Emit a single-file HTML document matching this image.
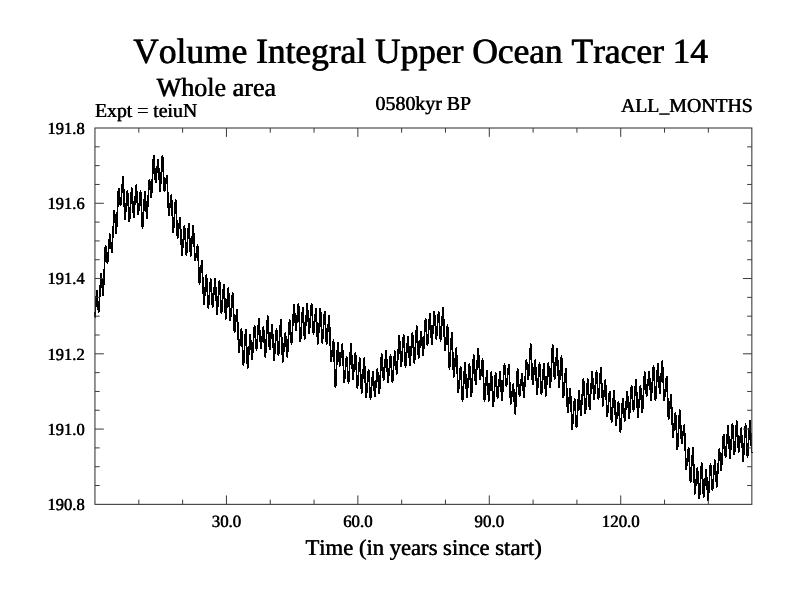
<!DOCTYPE html>
<html lang="en">
<head>
<meta charset="utf-8">
<title>Volume Integral Upper Ocean Tracer 14</title>
<style>
html,body{margin:0;padding:0;background:#fff;}
body{width:800px;height:600px;overflow:hidden;}
svg{display:block;}
text{font-family:"Liberation Serif","DejaVu Serif",serif;fill:#000;font-kerning:none;text-rendering:geometricPrecision;stroke:#000;stroke-width:0.08px;text-shadow:0.5px 0 0 #000;}
</style>
</head>
<body>
<svg width="800" height="600" viewBox="0 0 800 600">
<rect width="800" height="600" fill="#fff"/>
<text id="t1" style="stroke-width:0.15px;text-shadow:0.7px 0 0 #000" x="132.9" y="63.3" font-size="35.4">Volume Integral Upper Ocean Tracer 14</text>
<text id="t2" style="stroke-width:0.1px;text-shadow:0.6px 0 0 #000" x="156.3" y="96" font-size="26.1">Whole area</text>
<text id="t3" x="94.8" y="117.1" font-size="19.75">Expt = teiuN</text>
<text id="t4" x="375.3" y="110.3" font-size="19.9">0580kyr BP</text>
<text id="t5" x="752.6" y="112" text-anchor="end" font-size="19.8">ALL_MONTHS</text>
<text transform="translate(84.4 133.80) scale(0.97 1)" text-anchor="end" font-size="17.0">191.8</text>
<text transform="translate(84.4 209.07) scale(0.97 1)" text-anchor="end" font-size="17.0">191.6</text>
<text transform="translate(84.4 284.34) scale(0.97 1)" text-anchor="end" font-size="17.0">191.4</text>
<text transform="translate(84.4 359.61) scale(0.97 1)" text-anchor="end" font-size="17.0">191.2</text>
<text transform="translate(84.4 434.88) scale(0.97 1)" text-anchor="end" font-size="17.0">191.0</text>
<text transform="translate(84.4 510.15) scale(0.97 1)" text-anchor="end" font-size="17.0">190.8</text>
<text transform="translate(226.23 526.6) scale(0.98 1)" text-anchor="middle" font-size="17.2">30.0</text>
<text transform="translate(357.66 526.6) scale(0.98 1)" text-anchor="middle" font-size="17.2">60.0</text>
<text transform="translate(489.09 526.6) scale(0.98 1)" text-anchor="middle" font-size="17.2">90.0</text>
<text transform="translate(620.52 526.6) scale(0.98 1)" text-anchor="middle" font-size="17.2">120.0</text>
<text id="t6" x="305.2" y="554.8" font-size="22.65">Time (in years since start)</text>
<path d="M95.00 317.50L96.76 290.50L97.00 291.70L97.24 294.86L97.47 298.71L97.71 301.25L97.95 303.79L98.19 307.64L98.42 310.80L98.66 312.00L98.97 309.87L99.28 304.30L99.59 297.50L99.90 293.00L100.21 288.50L100.52 281.70L100.83 276.13L101.14 274.00L101.38 275.18L101.62 278.28L101.86 282.05L102.09 284.55L102.33 287.05L102.57 290.82L102.81 293.92L103.04 295.10L103.35 292.32L103.67 285.05L103.98 276.17L104.29 270.30L104.60 264.43L104.91 255.55L105.22 248.28L105.53 245.50L105.77 246.49L106.00 249.10L106.24 252.27L106.48 254.38L106.72 256.48L106.95 259.65L107.19 262.26L107.43 263.25L107.74 261.63L108.05 257.37L108.36 252.18L108.67 248.75L108.98 245.32L109.29 240.13L109.60 235.87L109.91 234.25L110.15 235.27L110.39 237.95L110.62 241.21L110.86 243.38L111.10 245.54L111.34 248.80L111.57 251.48L111.81 252.50L112.12 250.15L112.43 243.99L112.74 236.47L113.05 231.50L113.36 226.53L113.68 219.01L113.99 212.85L114.30 210.50L114.53 211.77L114.77 215.11L115.01 219.18L115.25 221.88L115.48 224.57L115.72 228.64L115.96 231.98L116.20 233.25L116.51 230.75L116.82 224.20L117.13 216.21L117.44 210.93L117.75 205.64L118.06 197.65L118.37 191.10L118.68 188.60L118.92 189.55L119.16 192.03L119.39 195.05L119.63 197.05L119.87 199.05L120.11 202.07L120.34 204.55L120.58 205.50L120.89 203.89L121.20 199.67L121.51 194.53L121.82 191.12L122.13 187.72L122.44 182.58L122.75 178.36L123.06 176.75L123.30 179.11L123.54 185.29L123.78 192.84L124.01 197.82L124.25 202.81L124.49 210.36L124.73 216.54L124.96 218.90L125.27 217.34L125.59 213.26L125.90 208.29L126.21 205.00L126.52 201.71L126.83 196.74L127.14 192.66L127.45 191.10L127.69 192.80L127.92 197.24L128.16 202.66L128.40 206.25L128.64 209.84L128.87 215.26L129.11 219.70L129.35 221.40L129.66 219.53L129.97 214.63L130.28 208.65L130.59 204.70L130.90 200.75L131.21 194.77L131.52 189.87L131.83 188.00L132.07 189.66L132.31 194.00L132.54 199.30L132.78 202.80L133.02 206.30L133.26 211.60L133.49 215.94L133.73 217.60L134.04 215.79L134.35 211.04L134.66 205.25L134.97 201.43L135.28 197.60L135.59 191.81L135.91 187.06L136.22 185.25L136.45 186.89L136.69 191.18L136.93 196.41L137.17 199.88L137.40 203.34L137.64 208.57L137.88 212.86L138.12 214.50L138.43 213.19L138.74 209.76L139.05 205.57L139.36 202.80L139.67 200.03L139.98 195.84L140.29 192.41L140.60 191.10L140.84 193.17L141.08 198.58L141.31 205.18L141.55 209.55L141.79 213.92L142.03 220.52L142.26 225.93L142.50 228.00L142.81 225.97L143.12 220.65L143.43 214.17L143.74 209.88L144.05 205.58L144.36 199.10L144.67 193.78L144.98 191.75L145.22 193.23L145.46 197.12L145.70 201.86L145.93 205.00L146.17 208.14L146.41 212.88L146.65 216.77L146.88 218.25L147.19 216.10L147.50 210.48L147.82 203.61L148.13 199.07L148.44 194.54L148.75 187.67L149.06 182.05L149.37 179.90L149.61 180.89L149.84 183.47L150.08 186.62L150.32 188.70L150.56 190.78L150.79 193.93L151.03 196.51L151.27 197.50L151.58 195.16L151.89 189.04L152.20 181.57L152.51 176.62L152.82 171.68L153.13 164.21L153.44 158.09L153.75 155.75L153.99 157.25L154.23 161.17L154.46 165.96L154.70 169.12L154.94 172.29L155.18 177.08L155.41 181.00L155.65 182.50L155.96 181.23L156.27 177.92L156.58 173.88L156.89 171.20L157.20 168.52L157.52 164.48L157.83 161.17L158.14 159.90L158.37 161.67L158.61 166.31L158.85 171.96L159.09 175.70L159.32 179.44L159.56 185.09L159.80 189.73L160.04 191.50L160.35 189.48L160.66 184.20L160.97 177.76L161.28 173.50L161.59 169.24L161.90 162.80L162.21 157.52L162.52 155.50L162.76 157.52L163.00 162.80L163.23 169.24L163.47 173.50L163.71 177.76L163.95 184.20L164.18 189.48L164.42 191.50L164.73 190.63L165.04 188.36L165.35 185.58L165.66 183.75L165.97 181.92L166.28 179.14L166.59 176.87L166.90 176.00L167.14 178.20L167.38 183.97L167.62 191.00L167.85 195.65L168.09 200.30L168.33 207.33L168.57 213.10L168.80 215.30L169.11 214.16L169.43 211.16L169.74 207.51L170.05 205.10L170.36 202.69L170.67 199.04L170.98 196.04L171.29 194.90L171.53 197.01L171.76 202.52L172.00 209.25L172.24 213.70L172.48 218.15L172.71 224.88L172.95 230.39L173.19 232.50L173.50 230.69L173.81 225.96L174.12 220.19L174.43 216.38L174.74 212.56L175.05 206.79L175.36 202.06L175.67 200.25L175.91 202.36L176.15 207.90L176.38 214.66L176.62 219.12L176.86 223.59L177.10 230.35L177.33 235.89L177.57 238.00L177.88 236.87L178.19 233.90L178.50 230.27L178.81 227.88L179.12 225.48L179.44 221.85L179.75 218.88L180.06 217.75L180.29 219.88L180.53 225.45L180.77 232.25L181.01 236.75L181.24 241.25L181.48 248.05L181.72 253.62L181.96 255.75L182.27 254.09L182.58 249.74L182.89 244.43L183.20 240.93L183.51 237.42L183.82 232.11L184.13 227.76L184.44 226.10L184.68 227.72L184.91 231.98L185.15 237.17L185.39 240.60L185.63 244.03L185.87 249.22L186.10 253.48L186.34 255.10L186.65 253.35L186.96 248.76L187.27 243.15L187.58 239.45L187.89 235.75L188.20 230.14L188.51 225.55L188.82 223.80L189.06 225.59L189.30 230.28L189.54 235.99L189.77 239.78L190.01 243.56L190.25 249.27L190.49 253.96L190.72 255.75L191.03 254.07L191.35 249.67L191.66 244.30L191.97 240.75L192.28 237.20L192.59 231.83L192.90 227.43L193.21 225.75L193.45 227.71L193.68 232.84L193.92 239.11L194.16 243.25L194.40 247.39L194.63 253.66L194.87 258.79L195.11 260.75L195.42 259.88L195.73 257.61L196.04 254.83L196.35 253.00L196.66 251.17L196.97 248.39L197.28 246.12L197.59 245.25L197.83 247.41L198.07 253.08L198.30 260.00L198.54 264.57L198.78 269.15L199.02 276.07L199.25 281.74L199.49 283.90L199.80 282.60L200.11 279.21L200.42 275.07L200.73 272.32L201.04 269.58L201.36 265.44L201.67 262.05L201.98 260.75L202.21 263.19L202.45 269.57L202.69 277.35L202.93 282.50L203.16 287.65L203.40 295.43L203.64 301.81L203.88 304.25L204.19 302.61L204.50 298.30L204.81 293.05L205.12 289.57L205.43 286.10L205.74 280.85L206.05 276.54L206.36 274.90L206.60 276.75L206.84 281.61L207.07 287.53L207.31 291.45L207.55 295.37L207.79 301.29L208.02 306.15L208.26 308.00L208.57 306.38L208.88 302.12L209.19 296.93L209.50 293.50L209.81 290.07L210.12 284.88L210.43 280.62L210.74 279.00L210.98 280.57L211.22 284.68L211.46 289.69L211.69 293.00L211.93 296.31L212.17 301.32L212.41 305.43L212.64 307.00L212.95 305.40L213.27 301.22L213.58 296.12L213.89 292.75L214.20 289.38L214.51 284.28L214.82 280.10L215.13 278.50L215.37 280.48L215.60 285.68L215.84 292.01L216.08 296.20L216.32 300.39L216.55 306.72L216.79 311.92L217.03 313.90L217.34 312.03L217.65 307.13L217.96 301.15L218.27 297.20L218.58 293.25L218.89 287.27L219.20 282.37L219.51 280.50L219.75 282.33L219.99 287.14L220.22 293.00L220.46 296.88L220.70 300.75L220.94 306.61L221.17 311.42L221.41 313.25L221.72 311.64L222.03 307.42L222.34 302.28L222.65 298.88L222.96 295.47L223.28 290.33L223.59 286.11L223.90 284.50L224.13 286.43L224.37 291.47L224.61 297.63L224.85 301.70L225.08 305.77L225.32 311.93L225.56 316.97L225.80 318.90L226.11 317.17L226.42 312.64L226.73 307.11L227.04 303.45L227.35 299.79L227.66 294.26L227.97 289.73L228.28 288.00L228.52 289.83L228.76 294.64L228.99 300.50L229.23 304.38L229.47 308.25L229.71 314.11L229.94 318.92L230.18 320.75L230.49 319.21L230.80 315.18L231.11 310.26L231.42 307.00L231.73 303.74L232.04 298.82L232.35 294.79L232.66 293.25L232.90 295.45L233.14 301.21L233.38 308.23L233.61 312.88L233.85 317.52L234.09 324.54L234.33 330.30L234.56 332.50L234.87 331.20L235.19 327.79L235.50 323.63L235.81 320.88L236.12 318.12L236.43 313.96L236.74 310.55L237.05 309.25L237.29 311.64L237.52 317.92L237.76 325.56L238.00 330.62L238.24 335.69L238.47 343.33L238.71 349.61L238.95 352.00L239.26 350.72L239.57 347.36L239.88 343.26L240.19 340.55L240.50 337.84L240.81 333.74L241.12 330.38L241.43 329.10L241.67 331.10L241.91 336.33L242.14 342.71L242.38 346.93L242.62 351.14L242.86 357.52L243.09 362.75L243.33 364.75L243.64 362.80L243.95 357.69L244.26 351.45L244.57 347.32L244.88 343.20L245.20 336.96L245.51 331.85L245.82 329.90L246.05 332.05L246.29 337.67L246.53 344.54L246.77 349.07L247.00 353.61L247.24 360.48L247.48 366.10L247.72 368.25L248.03 366.38L248.34 361.49L248.65 355.52L248.96 351.57L249.27 347.63L249.58 341.66L249.89 336.77L250.20 334.90L250.44 336.24L250.67 339.76L250.91 344.06L251.15 346.90L251.39 349.74L251.62 354.04L251.86 357.56L252.10 358.90L252.41 357.03L252.72 352.13L253.03 346.15L253.34 342.20L253.65 338.25L253.96 332.27L254.27 327.37L254.58 325.50L254.82 326.88L255.06 330.49L255.30 334.89L255.53 337.80L255.77 340.71L256.01 345.11L256.25 348.72L256.48 350.10L256.79 348.34L257.11 343.72L257.42 338.08L257.73 334.35L258.04 330.62L258.35 324.98L258.66 320.36L258.97 318.60L259.21 320.26L259.44 324.61L259.68 329.92L259.92 333.43L260.16 336.93L260.39 342.24L260.63 346.59L260.87 348.25L261.18 347.06L261.49 343.94L261.80 340.14L262.11 337.62L262.42 335.11L262.73 331.31L263.04 328.19L263.35 327.00L263.59 328.68L263.83 333.08L264.06 338.45L264.30 342.00L264.54 345.55L264.78 350.92L265.01 355.32L265.25 357.00L265.56 354.72L265.87 348.75L266.18 341.47L266.49 336.65L266.80 331.83L267.12 324.55L267.43 318.58L267.74 316.30L267.97 318.16L268.21 323.03L268.45 328.97L268.69 332.90L268.92 336.83L269.16 342.77L269.40 347.64L269.64 349.50L269.95 348.12L270.26 344.51L270.57 340.11L270.88 337.20L271.19 334.29L271.50 329.89L271.81 326.28L272.12 324.90L272.36 326.87L272.60 332.03L272.83 338.33L273.07 342.50L273.31 346.67L273.54 352.97L273.78 358.13L274.02 360.10L274.33 358.36L274.64 353.80L274.95 348.23L275.26 344.55L275.57 340.87L275.88 335.30L276.19 330.74L276.50 329.00L276.74 330.46L276.98 334.29L277.22 338.96L277.45 342.05L277.69 345.14L277.93 349.81L278.17 353.64L278.40 355.10L278.71 353.13L279.02 347.97L279.34 341.67L279.65 337.50L279.96 333.33L280.27 327.03L280.58 321.87L280.89 319.90L281.13 322.24L281.36 328.38L281.60 335.87L281.84 340.82L282.08 345.78L282.31 353.27L282.55 359.41L282.79 361.75L283.10 360.13L283.41 355.90L283.72 350.74L284.03 347.32L284.34 343.91L284.65 338.75L284.96 334.52L285.27 332.90L285.51 334.25L285.75 337.79L285.98 342.10L286.22 344.95L286.46 347.80L286.70 352.11L286.93 355.65L287.17 357.00L287.48 354.92L287.79 349.48L288.10 342.84L288.41 338.45L288.72 334.06L289.03 327.42L289.35 321.98L289.66 319.90L289.89 321.24L290.13 324.76L290.37 329.06L290.61 331.90L290.84 334.74L291.08 339.04L291.32 342.56L291.56 343.90L291.87 341.72L292.18 335.99L292.49 329.02L292.80 324.40L293.11 319.78L293.42 312.81L293.73 307.08L294.04 304.90L294.28 306.31L294.51 310.01L294.75 314.52L294.99 317.50L295.23 320.48L295.47 324.99L295.70 328.69L295.94 330.10L296.25 328.62L296.56 324.73L296.87 319.99L297.18 316.85L297.49 313.71L297.80 308.97L298.11 305.08L298.42 303.60L298.66 305.72L298.90 311.26L299.14 318.03L299.37 322.50L299.61 326.97L299.85 333.74L300.09 339.28L300.32 341.40L300.63 339.52L300.95 334.58L301.26 328.56L301.57 324.57L301.88 320.59L302.19 314.57L302.50 309.63L302.81 307.75L303.05 309.51L303.28 314.13L303.52 319.77L303.76 323.50L304.00 327.23L304.23 332.87L304.47 337.49L304.71 339.25L305.02 337.28L305.33 332.10L305.64 325.80L305.95 321.62L306.26 317.45L306.57 311.15L306.88 305.97L307.19 304.00L307.43 305.65L307.67 309.98L307.90 315.26L308.14 318.75L308.38 322.24L308.62 327.52L308.85 331.85L309.09 333.50L309.40 331.85L309.71 327.52L310.02 322.24L310.33 318.75L310.64 315.26L310.96 309.98L311.27 305.65L311.58 304.00L311.81 305.67L312.05 310.06L312.29 315.41L312.53 318.95L312.76 322.49L313.00 327.84L313.24 332.23L313.48 333.90L313.79 332.51L314.10 328.85L314.41 324.40L314.72 321.45L315.03 318.50L315.34 314.05L315.65 310.39L315.96 309.00L316.20 310.95L316.44 316.07L316.67 322.32L316.91 326.45L317.15 330.58L317.38 336.83L317.62 341.95L317.86 343.90L318.17 341.92L318.48 336.74L318.79 330.43L319.10 326.25L319.41 322.07L319.72 315.76L320.03 310.58L320.34 308.60L320.58 310.51L320.82 315.53L321.06 321.65L321.29 325.70L321.53 329.75L321.77 335.87L322.01 340.89L322.24 342.80L322.55 341.05L322.87 336.46L323.18 330.85L323.49 327.15L323.80 323.45L324.11 317.84L324.42 313.25L324.73 311.50L324.97 313.35L325.20 318.21L325.44 324.13L325.68 328.05L325.92 331.97L326.15 337.89L326.39 342.75L326.63 344.60L326.94 342.97L327.25 338.70L327.56 333.49L327.87 330.05L328.18 326.61L328.49 321.40L328.80 317.13L329.11 315.50L329.35 318.08L329.59 324.82L329.82 333.06L330.06 338.50L330.30 343.94L330.54 352.18L330.77 358.92L331.01 361.50L331.32 360.31L331.63 357.19L331.94 353.39L332.25 350.88L332.56 348.36L332.88 344.56L333.19 341.44L333.50 340.25L333.73 342.90L333.97 349.85L334.21 358.32L334.45 363.93L334.68 369.53L334.92 378.00L335.16 384.95L335.40 387.60L335.71 385.09L336.02 378.51L336.33 370.48L336.64 365.18L336.95 359.87L337.26 351.84L337.57 345.26L337.88 342.75L338.12 344.04L338.36 347.41L338.59 351.53L338.83 354.25L339.07 356.97L339.30 361.09L339.54 364.46L339.78 365.75L340.09 364.55L340.40 361.39L340.71 357.54L341.02 355.00L341.33 352.46L341.64 348.61L341.95 345.45L342.26 344.25L342.50 346.40L342.74 352.02L342.98 358.89L343.21 363.43L343.45 367.96L343.69 374.83L343.93 380.45L344.16 382.60L344.47 381.15L344.78 377.36L345.10 372.73L345.41 369.68L345.72 366.62L346.03 361.99L346.34 358.20L346.65 356.75L346.89 358.23L347.12 362.12L347.36 366.86L347.60 370.00L347.84 373.14L348.07 377.88L348.31 381.77L348.55 383.25L348.86 381.01L349.17 375.14L349.48 367.98L349.79 363.25L350.10 358.52L350.41 351.36L350.72 345.49L351.03 343.25L351.27 345.25L351.51 350.48L351.74 356.86L351.98 361.07L352.22 365.29L352.46 371.67L352.69 376.90L352.93 378.90L353.24 377.45L353.55 373.65L353.86 369.02L354.17 365.95L354.48 362.88L354.80 358.25L355.11 354.45L355.42 353.00L355.65 354.97L355.89 360.15L356.13 366.45L356.37 370.62L356.60 374.80L356.84 381.10L357.08 386.28L357.32 388.25L357.63 386.57L357.94 382.17L358.25 376.80L358.56 373.25L358.87 369.70L359.18 364.33L359.49 359.93L359.80 358.25L360.04 360.20L360.27 365.29L360.51 371.51L360.75 375.62L360.99 379.74L361.23 385.96L361.46 391.05L361.70 393.00L362.01 391.05L362.32 385.96L362.63 379.74L362.94 375.62L363.25 371.51L363.56 365.29L363.87 360.20L364.18 358.25L364.42 360.45L364.66 366.23L364.90 373.27L365.13 377.93L365.37 382.58L365.61 389.62L365.85 395.40L366.08 397.60L366.39 396.05L366.71 391.99L367.02 387.03L367.33 383.75L367.64 380.47L367.95 375.51L368.26 371.45L368.57 369.90L368.81 371.52L369.04 375.78L369.28 380.97L369.52 384.40L369.76 387.83L369.99 393.02L370.23 397.28L370.47 398.90L370.78 397.38L371.09 393.40L371.40 388.54L371.71 385.32L372.02 382.11L372.33 377.25L372.64 373.27L372.95 371.75L373.19 373.13L373.43 376.75L373.66 381.16L373.90 384.07L374.14 386.99L374.38 391.40L374.61 395.02L374.85 396.40L375.16 394.87L375.47 390.85L375.78 385.94L376.09 382.70L376.40 379.46L376.72 374.55L377.03 370.53L377.34 369.00L377.57 370.36L377.81 373.92L378.05 378.25L378.29 381.12L378.52 384.00L378.76 388.33L379.00 391.89L379.24 393.25L379.55 391.05L379.86 385.29L380.17 378.27L380.48 373.62L380.79 368.98L381.10 361.96L381.41 356.20L381.72 354.00L381.96 355.46L382.20 359.29L382.43 363.96L382.67 367.05L382.91 370.14L383.14 374.81L383.38 378.64L383.62 380.10L383.93 378.48L384.24 374.22L384.55 369.03L384.86 365.60L385.17 362.17L385.48 356.98L385.79 352.72L386.10 351.10L386.34 352.86L386.58 357.48L386.82 363.12L387.05 366.85L387.29 370.58L387.53 376.22L387.77 380.84L388.00 382.60L388.31 381.07L388.62 377.06L388.94 372.16L389.25 368.93L389.56 365.69L389.87 360.79L390.18 356.78L390.49 355.25L390.73 356.75L390.96 360.67L391.20 365.46L391.44 368.62L391.68 371.79L391.91 376.58L392.15 380.50L392.39 382.00L392.70 380.27L393.01 375.74L393.32 370.21L393.63 366.55L393.94 362.89L394.25 357.36L394.56 352.83L394.87 351.10L395.11 352.38L395.35 355.72L395.58 359.80L395.82 362.50L396.06 365.20L396.30 369.28L396.53 372.62L396.77 373.90L397.08 371.76L397.39 366.17L397.70 359.34L398.01 354.82L398.32 350.31L398.63 343.48L398.95 337.89L399.26 335.75L399.49 337.47L399.73 341.96L399.97 347.45L400.21 351.07L400.44 354.70L400.68 360.19L400.92 364.68L401.16 366.40L401.47 364.66L401.78 360.09L402.09 354.51L402.40 350.82L402.71 347.14L403.02 341.56L403.33 336.99L403.64 335.25L403.88 337.03L404.12 341.69L404.35 347.37L404.59 351.12L404.83 354.88L405.06 360.56L405.30 365.22L405.54 367.00L405.85 365.29L406.16 360.82L406.47 355.36L406.78 351.75L407.09 348.14L407.40 342.68L407.71 338.21L408.02 336.50L408.26 338.10L408.50 342.30L408.74 347.41L408.97 350.80L409.21 354.19L409.45 359.30L409.69 363.50L409.92 365.10L410.23 363.30L410.54 358.57L410.86 352.81L411.17 349.00L411.48 345.19L411.79 339.43L412.10 334.70L412.41 332.90L412.65 334.57L412.88 338.96L413.12 344.31L413.36 347.85L413.60 351.39L413.83 356.74L414.07 361.13L414.31 362.80L414.62 360.75L414.93 355.36L415.24 348.79L415.55 344.45L415.86 340.11L416.17 333.54L416.48 328.15L416.79 326.10L417.03 327.90L417.27 332.62L417.50 338.37L417.74 342.18L417.98 345.98L418.22 351.73L418.45 356.45L418.69 358.25L419.00 356.78L419.31 352.93L419.62 348.23L419.93 345.12L420.24 342.02L420.56 337.32L420.87 333.47L421.18 332.00L421.41 333.29L421.65 336.68L421.89 340.82L422.13 343.55L422.36 346.28L422.60 350.42L422.84 353.81L423.08 355.10L423.39 353.06L423.70 347.70L424.01 341.17L424.32 336.85L424.63 332.53L424.94 326.00L425.25 320.64L425.56 318.60L425.80 320.08L426.03 323.97L426.27 328.71L426.51 331.85L426.75 334.99L426.99 339.73L427.22 343.62L427.46 345.10L427.77 343.34L428.08 338.72L428.39 333.08L428.70 329.35L429.01 325.62L429.32 319.98L429.63 315.36L429.94 313.60L430.18 315.33L430.42 319.86L430.66 325.39L430.89 329.05L431.13 332.71L431.37 338.24L431.61 342.77L431.84 344.50L432.15 342.65L432.47 337.81L432.78 331.91L433.09 328.00L433.40 324.09L433.71 318.19L434.02 313.35L434.33 311.50L434.57 313.03L434.80 317.05L435.04 321.96L435.28 325.20L435.52 328.44L435.75 333.35L435.99 337.37L436.23 338.90L436.54 337.38L436.85 333.40L437.16 328.54L437.47 325.32L437.78 322.11L438.09 317.25L438.40 313.27L438.71 311.75L438.95 313.37L439.19 317.63L439.42 322.82L439.66 326.25L439.90 329.68L440.14 334.87L440.37 339.13L440.61 340.75L440.92 338.88L441.23 333.99L441.54 328.02L441.85 324.07L442.16 320.13L442.48 314.16L442.79 309.27L443.10 307.40L443.33 309.83L443.57 316.19L443.81 323.94L444.05 329.07L444.28 334.21L444.52 341.96L444.76 348.32L445.00 350.75L445.31 349.32L445.62 345.58L445.93 341.02L446.24 338.00L446.55 334.98L446.86 330.42L447.17 326.68L447.48 325.25L447.72 327.68L447.96 334.06L448.19 341.83L448.43 346.98L448.67 352.12L448.90 359.89L449.14 366.27L449.38 368.70L449.69 366.69L450.00 361.41L450.31 354.98L450.62 350.73L450.93 346.47L451.24 340.04L451.55 334.76L451.86 332.75L452.10 335.23L452.34 341.72L452.58 349.64L452.81 354.88L453.05 360.11L453.29 368.03L453.53 374.52L453.76 377.00L454.07 375.38L454.38 371.14L454.70 365.97L455.01 362.55L455.32 359.13L455.63 353.96L455.94 349.72L456.25 348.10L456.49 350.59L456.72 357.12L456.96 365.08L457.20 370.35L457.44 375.62L457.67 383.58L457.91 390.11L458.15 392.60L458.46 391.15L458.77 387.36L459.08 382.73L459.39 379.68L459.70 376.62L460.01 371.99L460.32 368.20L460.63 366.75L460.87 368.69L461.11 373.77L461.34 379.97L461.58 384.07L461.82 388.18L462.06 394.38L462.29 399.46L462.53 401.40L462.84 399.25L463.15 393.62L463.46 386.75L463.77 382.20L464.08 377.65L464.39 370.78L464.71 365.15L465.02 363.00L465.25 364.94L465.49 370.01L465.73 376.20L465.97 380.30L466.20 384.40L466.44 390.59L466.68 395.66L466.92 397.60L467.23 395.72L467.54 390.79L467.85 384.78L468.16 380.80L468.47 376.82L468.78 370.81L469.09 365.88L469.40 364.00L469.64 365.81L469.88 370.57L470.11 376.36L470.35 380.20L470.59 384.04L470.83 389.83L471.06 394.59L471.30 396.40L471.61 394.08L471.92 387.99L472.23 380.56L472.54 375.65L472.85 370.74L473.16 363.31L473.47 357.22L473.78 354.90L474.02 356.56L474.26 360.90L474.50 366.20L474.73 369.70L474.97 373.20L475.21 378.50L475.45 382.84L475.68 384.50L475.99 382.51L476.30 377.30L476.62 370.95L476.93 366.75L477.24 362.55L477.55 356.20L477.86 350.99L478.17 349.00L478.41 350.71L478.64 355.18L478.88 360.64L479.12 364.25L479.36 367.86L479.59 373.32L479.83 377.79L480.07 379.50L480.38 378.35L480.69 375.34L481.00 371.68L481.31 369.25L481.62 366.82L481.93 363.16L482.24 360.15L482.55 359.00L482.79 361.34L483.03 367.46L483.26 374.93L483.50 379.88L483.74 384.82L483.98 392.29L484.21 398.41L484.45 400.75L484.76 399.09L485.07 394.74L485.38 389.43L485.69 385.93L486.00 382.42L486.32 377.11L486.63 372.76L486.94 371.10L487.17 372.76L487.41 377.11L487.65 382.42L487.89 385.93L488.12 389.43L488.36 394.74L488.60 399.09L488.84 400.75L489.15 399.13L489.46 394.87L489.77 389.68L490.08 386.25L490.39 382.82L490.70 377.63L491.01 373.37L491.32 371.75L491.56 373.69L491.80 378.77L492.03 384.97L492.27 389.07L492.51 393.18L492.75 399.38L492.98 404.46L493.22 406.40L493.53 404.53L493.84 399.63L494.15 393.65L494.46 389.70L494.77 385.75L495.08 379.77L495.39 374.87L495.70 373.00L495.94 374.41L496.18 378.12L496.42 382.64L496.65 385.62L496.89 388.61L497.13 393.13L497.37 396.84L497.60 398.25L497.91 396.77L498.23 392.88L498.54 388.14L498.85 385.00L499.16 381.86L499.47 377.12L499.78 373.23L500.09 371.75L500.33 373.37L500.56 377.63L500.80 382.82L501.04 386.25L501.28 389.68L501.51 394.87L501.75 399.13L501.99 400.75L502.30 398.69L502.61 393.30L502.92 386.72L503.23 382.38L503.54 378.03L503.85 371.45L504.16 366.06L504.47 364.00L504.71 365.25L504.95 368.54L505.18 372.55L505.42 375.20L505.66 377.85L505.90 381.86L506.13 385.15L506.37 386.40L506.68 385.20L506.99 382.04L507.30 378.19L507.61 375.65L507.92 373.11L508.24 369.26L508.55 366.10L508.86 364.90L509.09 367.08L509.33 372.81L509.57 379.78L509.81 384.40L510.04 389.02L510.28 395.99L510.52 401.72L510.76 403.90L511.07 402.80L511.38 399.92L511.69 396.40L512.00 394.07L512.31 391.75L512.62 388.23L512.93 385.35L513.24 384.25L513.48 385.91L513.72 390.26L513.95 395.57L514.19 399.07L514.43 402.58L514.66 407.89L514.90 412.24L515.14 413.90L515.45 411.39L515.76 404.80L516.07 396.76L516.38 391.45L516.69 386.14L517.00 378.10L517.31 371.51L517.62 369.00L517.86 370.53L518.10 374.55L518.34 379.46L518.57 382.70L518.81 385.94L519.05 390.85L519.29 394.87L519.52 396.40L519.83 395.15L520.14 391.86L520.46 387.85L520.77 385.20L521.08 382.55L521.39 378.54L521.70 375.25L522.01 374.00L522.25 375.32L522.48 378.78L522.72 383.01L522.96 385.80L523.20 388.59L523.43 392.82L523.67 396.28L523.91 397.60L524.22 395.51L524.53 390.03L524.84 383.35L525.15 378.93L525.46 374.50L525.77 367.82L526.08 362.34L526.39 360.25L526.63 361.33L526.87 364.15L527.10 367.60L527.34 369.88L527.58 372.15L527.82 375.60L528.05 378.42L528.29 379.50L528.60 377.53L528.91 372.35L529.22 366.05L529.53 361.88L529.84 357.70L530.16 351.40L530.47 346.22L530.78 344.25L531.01 346.50L531.25 352.41L531.49 359.61L531.73 364.38L531.96 369.14L532.20 376.34L532.44 382.25L532.68 384.50L532.99 383.13L533.30 379.55L533.61 375.19L533.92 372.30L534.23 369.41L534.54 365.05L534.85 361.47L535.16 360.10L535.40 362.03L535.64 367.07L535.87 373.23L536.11 377.30L536.35 381.37L536.59 387.53L536.82 392.57L537.06 394.50L537.37 392.74L537.68 388.12L537.99 382.48L538.30 378.75L538.61 375.02L538.92 369.38L539.23 364.76L539.54 363.00L539.78 364.76L540.02 369.38L540.26 375.02L540.49 378.75L540.73 382.48L540.97 388.12L541.21 392.74L541.44 394.50L541.75 392.79L542.07 388.32L542.38 382.86L542.69 379.25L543.00 375.64L543.31 370.18L543.62 365.71L543.93 364.00L544.17 365.78L544.40 370.44L544.64 376.12L544.88 379.88L545.12 383.63L545.35 389.31L545.59 393.97L545.83 395.75L546.14 393.92L546.45 389.11L546.76 383.25L547.07 379.38L547.38 375.50L547.69 369.64L548.00 364.83L548.31 363.00L548.55 364.38L548.79 367.99L549.02 372.39L549.26 375.30L549.50 378.21L549.74 382.61L549.97 386.22L550.21 387.60L550.52 385.23L550.83 379.02L551.14 371.44L551.45 366.43L551.76 361.41L552.08 353.83L552.39 347.62L552.70 345.25L552.93 347.13L553.17 352.07L553.41 358.09L553.65 362.07L553.88 366.06L554.12 372.08L554.36 377.02L554.60 378.90L554.91 377.23L555.22 372.84L555.53 367.49L555.84 363.95L556.15 360.41L556.46 355.06L556.77 350.67L557.08 349.00L557.32 351.16L557.56 356.82L557.79 363.73L558.03 368.30L558.27 372.87L558.50 379.78L558.74 385.44L558.98 387.60L559.29 385.84L559.60 381.22L559.91 375.58L560.22 371.85L560.53 368.12L560.84 362.48L561.15 357.86L561.46 356.10L561.70 358.42L561.94 364.51L562.18 371.94L562.41 376.85L562.65 381.76L562.89 389.19L563.13 395.28L563.36 397.60L563.67 396.00L563.99 391.80L564.30 386.69L564.61 383.30L564.92 379.91L565.23 374.80L565.54 370.60L565.85 369.00L566.09 371.44L566.32 377.84L566.56 385.64L566.80 390.80L567.04 395.96L567.27 403.76L567.51 410.16L567.75 412.60L568.06 411.26L568.37 407.74L568.68 403.44L568.99 400.60L569.30 397.76L569.61 393.46L569.92 389.94L570.23 388.60L570.47 390.86L570.71 396.77L570.94 403.98L571.18 408.75L571.42 413.52L571.66 420.73L571.89 426.64L572.13 428.90L572.44 427.24L572.75 422.89L573.06 417.58L573.37 414.07L573.68 410.57L574.00 405.26L574.31 400.91L574.62 399.25L574.85 400.84L575.09 405.00L575.33 410.07L575.57 413.43L575.80 416.78L576.04 421.85L576.28 426.01L576.52 427.60L576.83 425.56L577.14 420.20L577.45 413.67L577.76 409.35L578.07 405.03L578.38 398.50L578.69 393.14L579.00 391.10L579.24 392.48L579.48 396.10L579.71 400.51L579.95 403.43L580.19 406.34L580.42 410.75L580.66 414.37L580.90 415.75L581.21 413.67L581.52 408.22L581.83 401.57L582.14 397.18L582.45 392.78L582.76 386.13L583.07 380.68L583.38 378.60L583.62 380.54L583.86 385.62L584.10 391.82L584.33 395.93L584.57 400.03L584.81 406.23L585.05 411.31L585.28 413.25L585.59 411.35L585.90 406.36L586.22 400.27L586.53 396.25L586.84 392.23L587.15 386.14L587.46 381.15L587.77 379.25L588.01 380.94L588.24 385.38L588.48 390.79L588.72 394.38L588.96 397.96L589.19 403.37L589.43 407.81L589.67 409.50L589.98 407.37L590.29 401.80L590.60 395.00L590.91 390.50L591.22 386.00L591.53 379.20L591.84 373.63L592.15 371.50L592.39 373.07L592.63 377.18L592.86 382.19L593.10 385.50L593.34 388.81L593.58 393.82L593.81 397.93L594.05 399.50L594.36 397.91L594.67 393.74L594.98 388.66L595.29 385.30L595.60 381.94L595.92 376.86L596.23 372.69L596.54 371.10L596.77 372.68L597.01 376.81L597.25 381.84L597.49 385.18L597.72 388.51L597.96 393.54L598.20 397.67L598.44 399.25L598.75 397.50L599.06 392.92L599.37 387.32L599.68 383.62L599.99 379.93L600.30 374.33L600.61 369.75L600.92 368.00L601.16 370.11L601.40 375.65L601.63 382.41L601.87 386.88L602.11 391.34L602.35 398.10L602.58 403.64L602.82 405.75L603.13 404.32L603.44 400.58L603.75 396.02L604.06 393.00L604.37 389.98L604.68 385.42L604.99 381.68L605.30 380.25L605.54 382.27L605.78 387.58L606.02 394.05L606.25 398.32L606.49 402.60L606.73 409.07L606.97 414.38L607.20 416.40L607.51 415.01L607.83 411.35L608.14 406.90L608.45 403.95L608.76 401.00L609.07 396.55L609.38 392.89L609.69 391.50L609.93 393.21L610.16 397.68L610.40 403.14L610.64 406.75L610.88 410.36L611.11 415.82L611.35 420.29L611.59 422.00L611.90 420.22L612.21 415.56L612.52 409.88L612.83 406.12L613.14 402.37L613.45 396.69L613.76 392.03L614.07 390.25L614.31 392.20L614.55 397.31L614.78 403.55L615.02 407.68L615.26 411.80L615.50 418.04L615.73 423.15L615.97 425.10L616.28 423.79L616.59 420.37L616.90 416.19L617.21 413.43L617.52 410.66L617.84 406.48L618.15 403.06L618.46 401.75L618.69 403.44L618.93 407.88L619.17 413.29L619.41 416.88L619.64 420.46L619.88 425.87L620.12 430.31L620.36 432.00L620.67 430.13L620.98 425.23L621.29 419.25L621.60 415.30L621.91 411.35L622.22 405.37L622.53 400.47L622.84 398.60L623.08 399.84L623.32 403.09L623.55 407.05L623.79 409.68L624.03 412.30L624.26 416.26L624.50 419.51L624.74 420.75L625.05 419.11L625.36 414.82L625.67 409.59L625.98 406.12L626.29 402.66L626.60 397.43L626.91 393.14L627.22 391.50L627.46 393.00L627.70 396.92L627.94 401.71L628.17 404.88L628.41 408.04L628.65 412.83L628.89 416.75L629.12 418.25L629.43 416.45L629.75 411.73L630.06 405.98L630.37 402.18L630.68 398.37L630.99 392.62L631.30 387.90L631.61 386.10L631.85 387.48L632.08 391.10L632.32 395.51L632.56 398.43L632.80 401.34L633.03 405.75L633.27 409.37L633.51 410.75L633.82 408.99L634.13 404.37L634.44 398.73L634.75 395.00L635.06 391.27L635.37 385.63L635.68 381.01L635.99 379.25L636.23 381.36L636.47 386.90L636.70 393.66L636.94 398.12L637.18 402.59L637.42 409.35L637.65 414.89L637.89 417.00L638.20 415.25L638.51 410.67L638.82 405.07L639.13 401.38L639.44 397.68L639.76 392.08L640.07 387.50L640.38 385.75L640.61 387.25L640.85 391.19L641.09 396.00L641.33 399.18L641.56 402.35L641.80 407.16L642.04 411.10L642.28 412.60L642.59 410.33L642.90 404.37L643.21 397.11L643.52 392.30L643.83 387.49L644.14 380.23L644.45 374.27L644.76 372.00L645.00 373.37L645.24 376.95L645.47 381.31L645.71 384.20L645.95 387.09L646.18 391.45L646.42 395.03L646.66 396.40L646.97 395.02L647.28 391.40L647.59 386.99L647.90 384.07L648.21 381.16L648.52 376.75L648.83 373.13L649.14 371.75L649.38 373.33L649.62 377.48L649.86 382.53L650.09 385.88L650.33 389.22L650.57 394.27L650.81 398.42L651.04 400.00L651.35 398.10L651.66 393.13L651.98 387.06L652.29 383.05L652.60 379.04L652.91 372.97L653.22 368.00L653.53 366.10L653.77 368.00L654.00 372.99L654.24 379.08L654.48 383.10L654.72 387.12L654.95 393.21L655.19 398.20L655.43 400.10L655.74 398.06L656.05 392.70L656.36 386.17L656.67 381.85L656.98 377.53L657.29 371.00L657.60 365.64L657.91 363.60L658.15 365.26L658.39 369.61L658.62 374.92L658.86 378.43L659.10 381.93L659.34 387.24L659.57 391.59L659.81 393.25L660.12 391.45L660.43 386.73L660.74 380.98L661.05 377.18L661.36 373.37L661.68 367.62L661.99 362.90L662.30 361.10L662.53 363.28L662.77 369.01L663.01 375.98L663.25 380.60L663.48 385.22L663.72 392.19L663.96 397.92L664.20 400.10L664.51 398.78L664.82 395.32L665.13 391.09L665.44 388.30L665.75 385.51L666.06 381.28L666.37 377.82L666.68 376.50L666.92 378.89L667.16 385.16L667.39 392.80L667.63 397.85L667.87 402.90L668.11 410.54L668.34 416.81L668.58 419.20L668.89 417.84L669.20 414.27L669.51 409.93L669.82 407.05L670.13 404.17L670.44 399.83L670.75 396.26L671.06 394.90L671.30 397.26L671.54 403.43L671.78 410.97L672.01 415.95L672.25 420.93L672.49 428.47L672.73 434.64L672.96 437.00L673.27 435.66L673.59 432.14L673.90 427.84L674.21 425.00L674.52 422.16L674.83 417.86L675.14 414.34L675.45 413.00L675.69 415.04L675.92 420.40L676.16 426.93L676.40 431.25L676.64 435.57L676.87 442.10L677.11 447.46L677.35 449.50L677.66 447.30L677.97 441.54L678.28 434.52L678.59 429.88L678.90 425.23L679.21 418.21L679.52 412.45L679.83 410.25L680.07 412.10L680.31 416.94L680.54 422.84L680.78 426.75L681.02 430.66L681.26 436.56L681.49 441.40L681.73 443.25L682.04 442.23L682.35 439.57L682.66 436.32L682.97 434.18L683.28 432.03L683.60 428.78L683.91 426.12L684.22 425.10L684.45 427.55L684.69 433.98L684.93 441.82L685.17 447.00L685.40 452.18L685.64 460.02L685.88 466.45L686.12 468.90L686.43 467.73L686.74 464.66L687.05 460.92L687.36 458.45L687.67 455.98L687.98 452.24L688.29 449.17L688.60 448.00L688.84 449.94L689.08 455.01L689.31 461.20L689.55 465.30L689.79 469.40L690.02 475.59L690.26 480.66L690.50 482.60L690.81 480.66L691.12 475.59L691.43 469.40L691.74 465.30L692.05 461.20L692.36 455.01L692.67 449.94L692.98 448.00L693.22 450.57L693.46 457.30L693.70 465.52L693.93 470.95L694.17 476.38L694.41 484.60L694.65 491.33L694.88 493.90L695.19 492.45L695.50 488.65L695.82 484.02L696.13 480.95L696.44 477.88L696.75 473.25L697.06 469.45L697.37 468.00L697.61 469.69L697.84 474.13L698.08 479.54L698.32 483.12L698.56 486.71L698.79 492.12L699.03 496.56L699.27 498.25L699.58 496.28L699.89 491.10L700.20 484.80L700.51 480.62L700.82 476.45L701.13 470.15L701.44 464.97L701.75 463.00L701.99 464.90L702.23 469.89L702.46 475.98L702.70 480.00L702.94 484.02L703.18 490.11L703.41 495.10L703.65 497.00L703.96 495.48L704.27 491.51L704.58 486.66L704.89 483.45L705.20 480.24L705.52 475.39L705.83 471.42L706.14 469.90L706.37 471.63L706.61 476.15L706.85 481.67L707.09 485.32L707.32 488.98L707.56 494.50L707.80 499.02L708.04 500.75L708.35 498.69L708.66 493.30L708.97 486.72L709.28 482.38L709.59 478.03L709.90 471.45L710.21 466.06L710.52 464.00L710.76 465.46L711.00 469.29L711.23 473.96L711.47 477.05L711.71 480.14L711.94 484.81L712.18 488.64L712.42 490.10L712.73 488.43L713.04 484.05L713.35 478.71L713.66 475.18L713.97 471.64L714.28 466.30L714.59 461.92L714.90 460.25L715.14 461.75L715.38 465.67L715.62 470.46L715.85 473.62L716.09 476.79L716.33 481.58L716.57 485.50L716.80 487.00L717.11 484.87L717.42 479.30L717.74 472.50L718.05 468.00L718.36 463.50L718.67 456.70L718.98 451.13L719.29 449.00L719.53 450.18L719.76 453.28L720.00 457.05L720.24 459.55L720.48 462.05L720.71 465.82L720.95 468.92L721.19 470.10L721.50 468.11L721.81 462.88L722.12 456.51L722.43 452.30L722.74 448.09L723.05 441.72L723.36 436.49L723.67 434.50L723.91 435.78L724.15 439.12L724.38 443.20L724.62 445.90L724.86 448.60L725.10 452.68L725.33 456.02L725.57 457.30L725.88 455.55L726.19 450.98L726.50 445.39L726.81 441.70L727.12 438.01L727.44 432.42L727.75 427.85L728.06 426.10L728.29 427.90L728.53 432.62L728.77 438.37L729.01 442.18L729.24 445.98L729.48 451.73L729.72 456.45L729.96 458.25L730.27 456.31L730.58 451.23L730.89 445.03L731.20 440.93L731.51 436.82L731.82 430.62L732.13 425.54L732.44 423.60L732.68 425.33L732.92 429.86L733.15 435.39L733.39 439.05L733.63 442.71L733.87 448.24L734.10 452.77L734.34 454.50L734.65 452.63L734.96 447.73L735.27 441.75L735.58 437.80L735.89 433.85L736.20 427.87L736.51 422.97L736.82 421.10L737.06 422.83L737.30 427.36L737.54 432.89L737.77 436.55L738.01 440.21L738.25 445.74L738.49 450.27L738.72 452.00L739.03 450.66L739.35 447.14L739.66 442.84L739.97 440.00L740.28 437.16L740.59 432.86L740.90 429.34L741.21 428.00L741.45 429.88L741.68 434.79L741.92 440.78L742.16 444.75L742.40 448.72L742.63 454.71L742.87 459.62L743.11 461.50L743.42 459.41L743.73 453.95L744.04 447.28L744.35 442.88L744.66 438.47L744.97 431.80L745.28 426.34L745.59 424.25L745.83 426.10L746.07 430.95L746.30 436.86L746.54 440.77L746.78 444.69L747.02 450.60L747.25 455.45L747.49 457.30L747.80 455.27L748.11 449.96L748.42 443.48L748.73 439.20L749.04 434.92L749.36 428.44L749.67 423.13L749.98 421.10L750.21 422.90L750.45 427.62L750.69 433.37L750.93 437.18L751.16 440.98L751.40 446.73L751.64 451.45L751.88 453.25" fill="none" stroke="#000" stroke-width="1.7" stroke-linejoin="round" stroke-linecap="butt" shape-rendering="crispEdges"/>
<rect x="94.95" y="128.0" width="656.90" height="376.35" fill="none" stroke="#333" stroke-width="1.05"/>
<path d="M94.95 146.82h4.7M751.85 146.82h-4.7M94.95 165.63h4.7M751.85 165.63h-4.7M94.95 184.45h4.7M751.85 184.45h-4.7M94.95 203.27h8.9M751.85 203.27h-8.9M94.95 222.09h4.7M751.85 222.09h-4.7M94.95 240.91h4.7M751.85 240.91h-4.7M94.95 259.72h4.7M751.85 259.72h-4.7M94.95 278.54h8.9M751.85 278.54h-8.9M94.95 297.36h4.7M751.85 297.36h-4.7M94.95 316.18h4.7M751.85 316.18h-4.7M94.95 334.99h4.7M751.85 334.99h-4.7M94.95 353.81h8.9M751.85 353.81h-8.9M94.95 372.63h4.7M751.85 372.63h-4.7M94.95 391.45h4.7M751.85 391.45h-4.7M94.95 410.26h4.7M751.85 410.26h-4.7M94.95 429.08h8.9M751.85 429.08h-8.9M94.95 447.90h4.7M751.85 447.90h-4.7M94.95 466.72h4.7M751.85 466.72h-4.7M94.95 485.53h4.7M751.85 485.53h-4.7M138.81 504.35v-4.7M138.81 128.0v4.7M182.62 504.35v-4.7M182.62 128.0v4.7M226.43 504.35v-8.9M226.43 128.0v8.9M270.24 504.35v-4.7M270.24 128.0v4.7M314.05 504.35v-4.7M314.05 128.0v4.7M357.86 504.35v-8.9M357.86 128.0v8.9M401.67 504.35v-4.7M401.67 128.0v4.7M445.48 504.35v-4.7M445.48 128.0v4.7M489.29 504.35v-8.9M489.29 128.0v8.9M533.10 504.35v-4.7M533.10 128.0v4.7M576.91 504.35v-4.7M576.91 128.0v4.7M620.72 504.35v-8.9M620.72 128.0v8.9M664.53 504.35v-4.7M664.53 128.0v4.7M708.34 504.35v-4.7M708.34 128.0v4.7" fill="none" stroke="#3a3a3a" stroke-width="1"/>
</svg>
</body>
</html>
